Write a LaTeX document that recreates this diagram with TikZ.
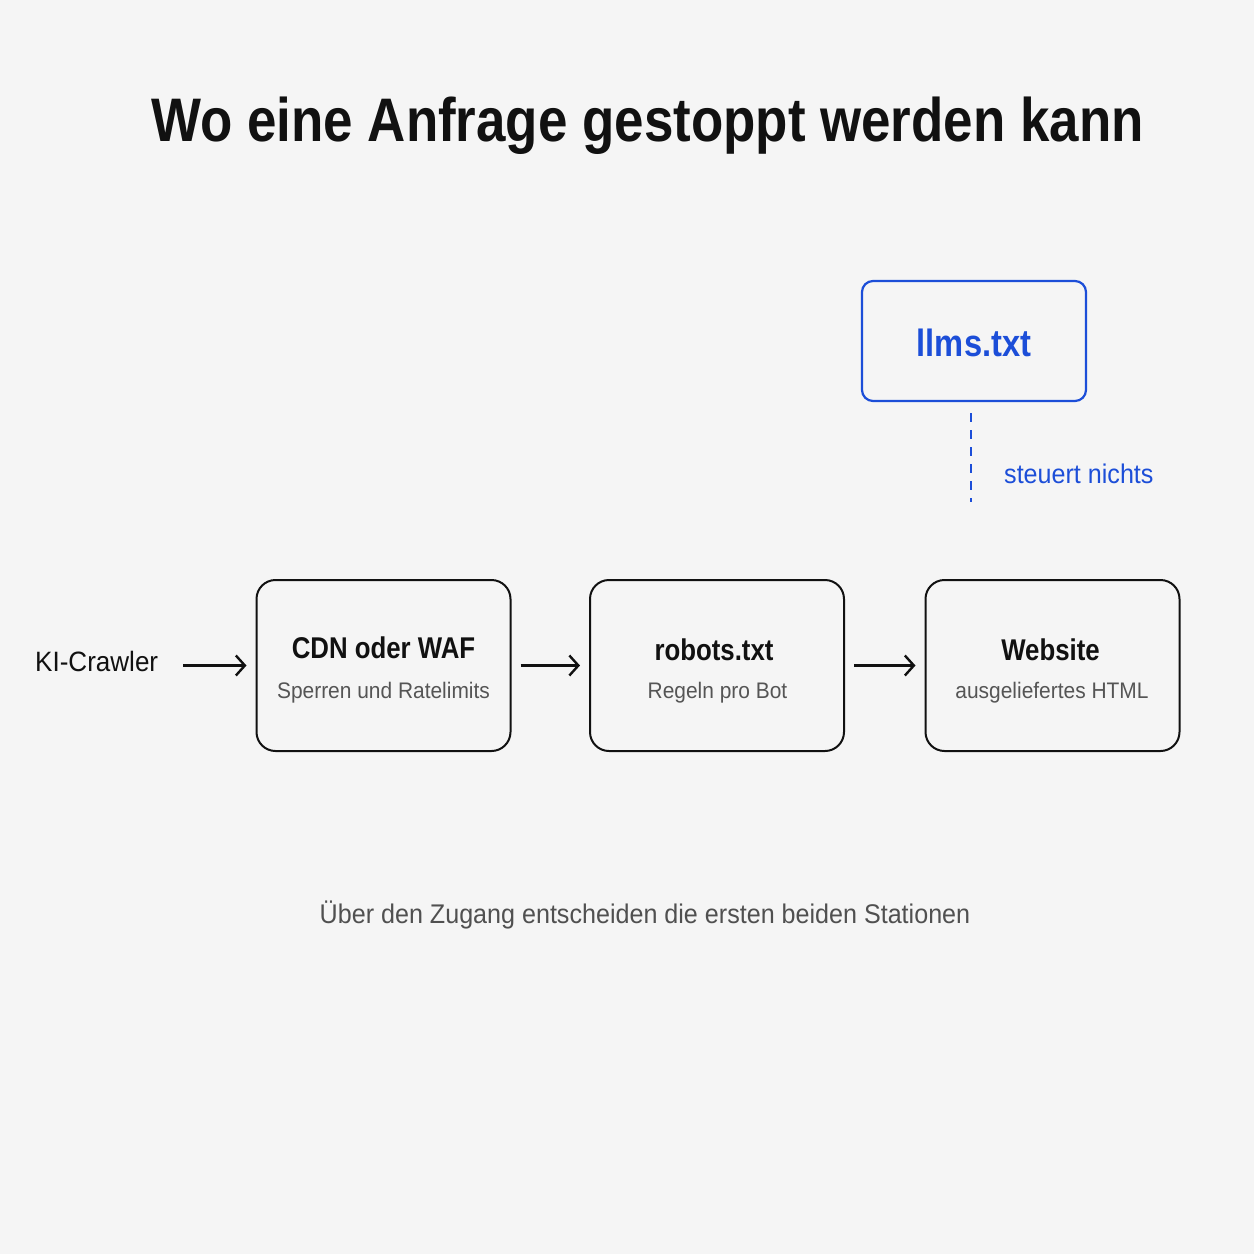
\documentclass[tikz,border=0pt]{standalone}
\usepackage{fontspec}
\setmainfont{Liberation Sans}[FakeStretch=0.93]
\newfontfamily\hdfont{Liberation Sans}[FakeStretch=0.86]
\usetikzlibrary{calc}
\usetikzlibrary{arrows.meta}
\definecolor{bg0}{RGB}{245,245,245}
\definecolor{ink}{RGB}{17,17,17}
\definecolor{sub}{RGB}{85,85,85}
\definecolor{foot}{RGB}{80,80,80}
\definecolor{bl1}{RGB}{28,78,216}

\begin{document}
\begin{tikzpicture}[
    x=1pt, y=-1pt,
    box/.style={
        rounded corners=19pt, minimum width=254pt, minimum height=171pt,
        draw=ink, line width=2pt, inner sep=0pt
    },
    llbox/.style={
        rounded corners=11pt, minimum width=224pt, minimum height=120pt,
        draw=bl1, line width=2.2pt, inner sep=0pt
    },
    hd/.style={font={\hdfont\bfseries\fontsize{30}{36}\selectfont},text=ink,inner sep=0pt,anchor=base},
    sb/.style={font={\fontsize{22.5}{27}\selectfont},text=sub,inner sep=0pt,anchor=base},
    ar/.style={line width=2.4pt, color=ink, -{Straight Barb[length=9pt,width=20pt,line width=2.4pt]},
        shorten <=9pt, shorten >=9pt},
    dl/.style={line width=2.6pt, color=bl1, dash pattern=on 9pt off 8pt}
]

    \fill [bg0] (0,0) rectangle (1254,1254);

    \node [font={\hdfont\bfseries\fontsize{61.5}{70}\selectfont}, text=ink, inner sep=0pt, anchor=base]
        (title) at (647.5,141) {Wo eine Anfrage gestoppt werden kann};

    \node [llbox] (llms) at (974,341) {};
    \node [font={\hdfont\bfseries\fontsize{38}{44}\selectfont}, text=bl1, inner sep=0pt, anchor=base]
        (llmsT) at (974,356) {llms.txt};
    \coordinate (llmsEnd) at (971,502);
    \node [font={\fontsize{27}{32}\selectfont}, text=bl1, inner sep=0pt, anchor=base west]
        (steuert) at (1004,483) {steuert nichts};

    \node [font={\fontsize{28}{33}\selectfont}, text=ink, inner sep=0pt, anchor=base west]
        (crawler) at (35,671) {KI-Crawler};

    \node [box] (cdn) at (383.5,665.5) {};
    \node [box] (rob) at (717,665.5) {};
    \node [box] (web) at (1052.5,665.5) {};

    \node [hd] (cdnT) at (383.5,658) {CDN oder WAF};
    \node [sb] (cdnS) at (383.5,698) {Sperren und Ratelimits};
    \node [hd] (robT) at (714,660) {robots.txt};
    \node [sb] (robS) at (717.5,698) {Regeln pro Bot};
    \node [hd] (webT) at (1050.5,660) {Website};
    \node [sb] (webS) at (1052,698) {ausgeliefertes HTML};

    \node [font={\fontsize{27}{32}\selectfont}, text=foot, inner sep=0pt, anchor=base]
        (footer) at (645,923) {Über den Zugang entscheiden die ersten beiden Stationen};

    \draw [ar, shorten <=25pt] (crawler.east |- cdn.west) -- (cdn.west);
    \draw (cdn) edge [ar] (rob);
    \draw (rob) edge [ar] (web);
    \draw [dl, shorten <=11pt] (llms.south -| llmsEnd) -- (llmsEnd);

\end{tikzpicture}
\end{document}
